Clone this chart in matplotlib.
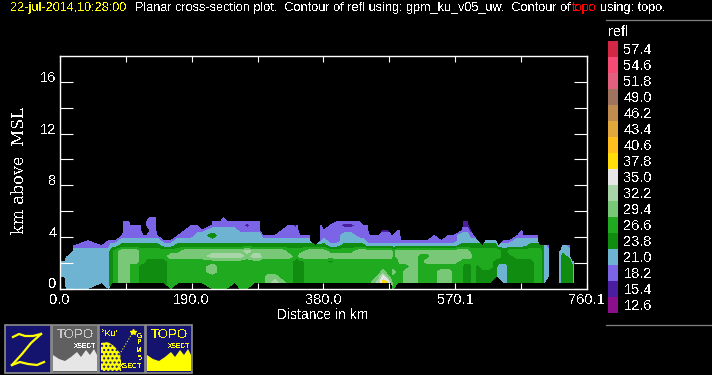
"""Planar cross-section of reflectivity, redrawn in the style of the Zebra display."""

import matplotlib
matplotlib.use("Agg")
import matplotlib.pyplot as plt
import numpy as np
from matplotlib.colors import BoundaryNorm, ListedColormap
from matplotlib.patches import Polygon, Rectangle

plt.rcParams["font.family"] = ["Liberation Sans", "DejaVu Sans"]
plt.rcParams["text.antialiased"] = False

# colour key of the display
level_labels = ["12.6", "15.4", "18.2", "21.0", "23.8", "26.6", "29.4", "32.2", "35.0",
                "37.8", "40.6", "43.4", "46.2", "49.0", "51.8", "54.6", "57.4"]
level_colors = ["#8B0F8B", "#4A1E9E", "#7B64E6", "#6FB3D2", "#108C10", "#20AA20", "#78C878",
                "#A8D5A8", "#E6E6E6", "#FFDC0A", "#FFC01E", "#E1A83C", "#C08C50", "#A0735F",
                "#E0607D", "#F54C75", "#D22846"]
level_edges = [float(v) for v in level_labels] + [60.2]

# reflectivity, by colour band (dBZ at the middle of each band)
n = np.nan
D, P, B, G, M, L, A, W, Y = 16.8, 19.6, 22.4, 25.2, 28.0, 30.8, 33.6, 36.4, 39.2

height_km = [0, 0.46, 0.9, 1.3, 1.7, 2.1, 2.5, 2.9, 3.3, 3.7, 4.1, 4.5, 4.9, 5.2, 5.5]

distance_km = [
    0, 7, 8, 9, 12, 20, 40, 60, 70, 74, 80, 90, 92, 99, 101, 110, 116, 120, 125, 130, 138, 140,
    150, 160, 170, 180, 190, 198, 204, 220, 232, 236, 240, 252, 260, 270, 280, 288, 292, 300,
    310, 320, 330, 340, 343, 346, 360, 368, 376, 380, 390, 400, 410, 420, 432, 436, 444, 446,
    452, 460, 466, 472, 478, 480, 488, 490, 492, 500, 510, 520, 530, 540, 550, 560, 568, 580,
    582, 588, 592, 596, 602, 610, 614, 620, 628, 632, 640, 644, 648, 660, 666, 668, 680, 688,
    692, 696, 698, 704, 706, 718, 720, 722, 725, 735, 738, 741, 743,
]

# one list per distance, bottom to top; missing tops are padded with n below
refl_columns = [
    [n, n, B, B, B, B],
    [n, n, B, B, B, B],
    [n, P, P, P, B, B],
    [B, B, B, B, B, B, B],
    [B, B, B, B, B, B, B],
    [B, B, B, B, B, B, B, B, P],
    [B, B, B, B, B, B, B, B, P, P],
    [n, B, B, B, B, B, B, B, P],
    [B, B, B, B, B, B, B, B, P, P],
    [n, G, G, G, G, G, G, G, B, P],
    [n, M, M, M, M, M, M, M, B, P],
    [n, L, L, L, L, L, L, L, G, B, P],
    [n, L, L, L, L, L, L, L, G, B, P, P, P, P],
    [n, L, L, L, L, L, L, L, G, B, P, P, P, P],
    [n, M, M, M, M, L, L, L, G, B, P, P, P],
    [n, M, M, M, M, L, L, L, G, B, P, P, P],
    [n, G, G, G, G, M, M, M, G, B, P, P, P],
    [n, G, G, G, G, M, M, M, G, B, P],
    [n, G, G, G, G, G, M, M, G, B, P, n, P, P],
    [n, G, G, G, G, G, M, M, G, B, P, P, P, P, P],
    [n, G, G, G, G, G, M, M, G, B, P, P, P, P, P],
    [n, G, G, G, G, G, M, M, G, B, P],
    [n, G, G, G, G, G, M, M, B, P],
    [M, M, M, M, M, M, L, M, B, P],
    [n, M, M, M, M, M, L, M, G, B, P],
    [n, M, M, M, M, M, L, L, G, B, P, P],
    [n, M, M, M, M, M, L, L, G, B, P, P, P],
    [n, M, M, M, M, M, L, L, G, B, B, P, P],
    [n, M, M, M, M, M, L, L, G, B, B, P],
    [M, M, M, L, L, M, A, L, G, B, G, B, P, P],
    [M, M, M, M, M, M, A, L, G, B, B, B, P, P],
    [M, M, M, M, M, M, A, L, G, B, B, B, P, P, P],
    [M, M, M, M, M, M, A, L, G, B, B, B, P, P],
    [n, M, M, M, M, M, A, L, G, B, B, B, P, P],
    [M, M, M, M, M, M, A, L, G, B, B, P, P, P],
    [M, M, M, M, M, M, L, A, G, B, B, P, D, P],
    [n, M, M, M, M, M, A, L, G, B, B, P, P, P],
    [n, M, M, M, M, M, A, L, G, B, B, P, P, P],
    [n, M, M, M, M, M, L, L, G, B, P],
    [n, L, L, M, M, M, L, L, G, B, P],
    [n, A, L, M, M, M, L, L, G, B, P],
    [n, L, M, M, M, M, L, L, G, B, P, P],
    [n, M, M, M, M, M, L, M, G, B, P, P, P],
    [n, G, G, G, G, G, M, M, G, B, P, P, D],
    [n, G, G, G, G, G, M, M, G, B, P, P, P],
    [n, G, G, G, G, G, L, M, G, B, P],
    [n, M, M, M, M, M, L, L, G, B, P],
    [n, M, M, M, M, M, L, L, G],
    [n, M, M, M, M, M, L, L, G, P, P, P, P],
    [n, M, M, M, M, M, L, L, G, B, P, P],
    [n, M, M, M, M, G, L, M, B, P, P, P, P],
    [n, M, M, M, M, M, L, M, B, P, P, P, P, P],
    [n, M, M, M, M, M, L, M, G, B, B, P, D, P],
    [n, M, M, M, M, M, L, M, G, B, B, P, D, P],
    [n, M, M, M, M, M, L, L, G, B, P, P, P, P],
    [n, M, M, M, M, M, L, L, G, B, P, P, P],
    [n, M, M, M, M, M, L, L, B, P, P, P, P],
    [n, M, M, M, M, M, L, L, B, P, P],
    [n, L, M, M, M, M, L, L, B, P, P],
    [n, A, L, M, M, M, L, L, B, P, P],
    [n, Y, W, L, M, M, L, L, B, P, P, D],
    [n, Y, L, M, M, M, L, L, B, P, P, D],
    [n, L, M, M, M, M, L, L, B, P, P],
    [M, M, M, L, M, M, M, M, B, P, P],
    [n, M, M, M, M, M, L, L, B, P, P, P],
    [n, M, M, M, M, L, L, L, B, P, P, P],
    [n, M, M, M, M, L, L, L, B, P],
    [n, L, L, L, M, L, L, L, B, P],
    [n, L, L, L, L, L, L, L, B, P],
    [n, M, M, M, M, M, M, L, B, P],
    [n, M, M, M, M, L, M, L, B, P],
    [n, M, M, M, M, L, L, L, B, P, P],
    [n, L, L, L, M, L, L, L, B, P],
    [n, L, L, L, M, L, L, L, B, P, P],
    [n, M, M, M, M, L, L, L, B, P, P],
    [n, M, M, M, M, M, L, L, G, B, B, P],
    [n, G, G, G, G, M, L, L, G, B, B, P, D, D],
    [n, G, G, G, G, M, L, L, G, B, B, P, D, D],
    [n, G, G, G, G, M, L, M, G, B, P, D],
    [n, M, M, M, M, M, M, M, G, B, P],
    [n, G, G, G, G, M, M, M, G, B],
    [n, G, G, G, M, M, M, M, G],
    [n, G, G, G, M, M, M, M, G, B],
    [n, G, G, G, M, M, M, M, G, B],
    [n, n, G, G, G, G, M, M, G, B],
    [n, n, B, B, B, G, M, M, B],
    [n, B, B, B, B, G, G, G, B, P],
    [n, B, B, B, B, G, G, G, B, P],
    [n, G, G, G, G, G, G, M, B, P],
    [n, G, G, G, G, G, M, M, B, B, P],
    [n, G, G, G, G, G, M, M, B, B, P, P],
    [n, G, G, G, G, G, M, M, B, B, P],
    [n, G, G, G, G, G, M, M, G, B, P],
    [n, M, M, M, M, M, M, M, G, B, P],
    [n, M, M, M, M, M, M, M, G],
    [n, G, G, G, G, G, G, G, G],
    [n, B, B, B, B, B, B, B, B],
    [n, n, B, B, B, B, B, B, P],
    [],
    [],
    [n, B, B, B, B, B, B, B],
    [n, B, B, B, B, B, B, B],
    [n, G, G, G, G, G, G, B, B],
    [n, G, G, G, G, G, B, B, P],
    [n, G, G, G, G, B],
    [n, B, B, B, B, B],
    [],
]

# axis text and ticks
x_major = [0.0, 190.0, 380.0, 570.1, 760.1]
x_major_labels = ["0.0", "190.0", "380.0", "570.1", "760.1"]
x_minor = [95.0, 285.0, 475.0, 665.0]
y_ticks = [0, 2, 4, 6, 8, 10, 12, 14, 16]
y_tick_labels = ["0", "", "4", "", "8", "", "12", "", "16"]


def px_box(left, top, right, bottom):
    return [left / 712, 1 - bottom / 375, (right - left) / 712, (bottom - top) / 375]


fig = plt.figure(figsize=(7.12, 3.75), dpi=100, facecolor="black")

ax = fig.add_axes(px_box(60, 56, 587, 288.5), facecolor="black")
refl = np.array([c + [n] * (len(height_km) - len(c)) for c in refl_columns]).T
cmap = ListedColormap(level_colors)
norm = BoundaryNorm(level_edges, cmap.N)
ax.contourf(distance_km, height_km, refl, levels=level_edges, cmap=cmap, norm=norm,
            antialiased=False)
ax.set_xlim(0, 760.1)
ax.set_ylim(0, 18)
for side in ax.spines.values():
    side.set_color("white")
    side.set_linewidth(1.0)
ax.set_xticks(x_major, x_major_labels)
ax.set_xticks(x_minor, minor=True)
ax.tick_params(axis="x", which="both", direction="in", top=True, length=4.5, width=0.8,
               color="white", labelcolor="white", labelsize=10.5, pad=3)
ax.set_yticks(y_ticks, y_tick_labels)
ax.tick_params(axis="y", direction="in", right=True, length=9.5, width=0.8, color="white",
               labelcolor="white", labelsize=10.5, pad=2.5)
for lab in ax.get_yticklabels():
    lab.set_va("baseline")
ax.set_xlabel("Distance in km", color="white", fontsize=10, va="center")
ax.xaxis.set_label_coords(0.499, -0.114)
ax.set_ylabel("km above  MSL", color="white", fontsize=11.6, family="DejaVu Serif", va="center")
ax.yaxis.set_label_coords(-0.076, 0.506)

# colour key
cax = fig.add_axes(px_box(608, 41, 618, 313), facecolor="black")
cax.pcolormesh([0, 1], np.arange(18), np.arange(17).reshape(-1, 1), cmap=cmap, shading="flat")
cax.set_xticks([])
cax.set_yticks(np.arange(17) + 0.5, level_labels)
cax.yaxis.tick_right()
cax.tick_params(axis="y", length=0, labelcolor="white", labelsize=10.5, pad=4)
for side in cax.spines.values():
    side.set_visible(False)

# everything else sits on a pixel-sized overlay
over = fig.add_axes([0, 0, 1, 1], facecolor="none")
over.set_xlim(0, 712)
over.set_ylim(375, 0)
over.axis("off")

title_y = 8.5
over.text(10, title_y, "22-jul-2014,10:28:00", color="yellow", fontsize=9.05, va="center")
over.text(135, title_y, "Planar cross-section plot.  Contour of refl using: gpm_ku_v05_uw.  Contour of",
          color="white", fontsize=9.05, va="center")
over.text(572, title_y, "topo", color="red", fontsize=9.05, va="center")
over.text(600, title_y, "using: topo.", color="white", fontsize=9.05, va="center")
over.text(608, 32, "refl", color="white", fontsize=10.5, va="center")
over.plot([606, 712], [19.5, 19.5], color="#808080", lw=0.9)
over.plot([606, 712], [324.5, 324.5], color="#808080", lw=0.9)

# icon buttons
navy = "#14146E"
gray = "#8C8C8C"
for left, face in [(5, navy), (52, "#606060"), (99, navy), (146, navy)]:
    over.add_patch(Rectangle((left, 325), 46, 48, facecolor=face, edgecolor=gray, lw=1.2))

# Z
over.plot([13, 19, 25, 33, 41], [337, 334, 336, 336, 334], color="yellow", lw=1.6)
over.plot([41, 31, 22, 12], [334, 343, 354, 365], color="yellow", lw=1.6)
over.plot([12, 20, 28, 37, 44], [365, 362, 364, 365, 362], color="yellow", lw=1.6)

# topo icons
topo_ridge = [(0, 46), (0, 30), (6, 34), (12, 36), (18, 32), (24, 27), (28, 32), (33, 25),
              (37, 30), (41, 24), (44, 30), (44, 46)]
for left, fill, word in [(52, "#E6E6E6", "#C8C8C8"), (146, "yellow", "yellow")]:
    ridge = [(left + 1 + a, 325 + b) for a, b in topo_ridge]
    over.add_patch(Polygon(ridge, closed=True, facecolor=fill, edgecolor="none"))
    over.text(left + 23, 335, "TOPO", color=word, fontsize=9.5, ha="center", va="center")
    over.text(left + 33, 346, "XSECT", color="white" if fill != "yellow" else "yellow",
              fontsize=4.8, ha="center", va="center", weight="bold")

# GPM icon
over.add_patch(Polygon([(101, 371), (101, 343), (108, 342), (114, 346), (120, 353), (121, 360),
                        (121, 371)], closed=True, facecolor="yellow", edgecolor=navy, hatch="....",
                       lw=0))
over.text(110, 333.5, "\u00b0Ku'", color="yellow", fontsize=6.5, ha="center", va="center")
over.plot([121, 133], [352, 332], color="yellow", lw=0.8, ls=":")
over.plot([133], [332], marker="*", color="yellow", ms=4)
for i, ch in enumerate("GPM"):
    over.text(139.5, 336 + i * 7, ch, color="yellow", fontsize=5, ha="center", va="center")
over.text(139.5, 359, "5", color="yellow", fontsize=5, ha="center", va="center")
over.text(131, 367, "XSECT", color="yellow", fontsize=5, ha="center", va="center", weight="bold")

fig.savefig("out.png", dpi=100, facecolor="black")
